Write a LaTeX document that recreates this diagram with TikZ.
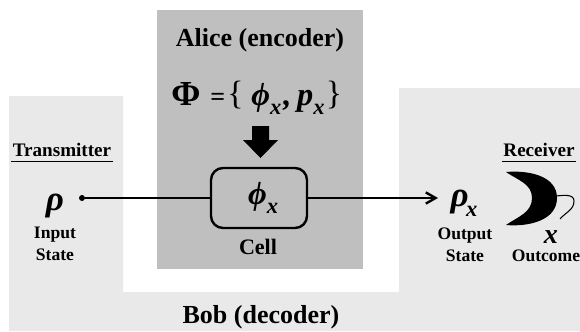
\documentclass[tikz,border=0pt]{standalone}
\usepackage{fontspec}
\setmainfont{Liberation Serif}
\usetikzlibrary{arrows.meta}
\definecolor{bobgray}{HTML}{E9E9E9}
\definecolor{alicegray}{HTML}{BFBFBF}
\newcommand{\subx}{\raisebox{-0.28em}{\fontsize{16}{16}\selectfont x}}
\newcommand{\brc}[1]{{\mdseries\upshape\fontsize{24}{24}\selectfont\raisebox{0.02em}{#1}}}
\tikzset{
title/.style={font=\bfseries\fontsize{18.5}{20}\selectfont,inner sep=0pt},
party/.style={font=\bfseries\fontsize{13.6}{15}\selectfont,inner xsep=1pt,inner ysep=3pt},
small/.style={font=\bfseries\fontsize{12.5}{15.6}\selectfont,align=center,inner sep=0pt},
symb/.style={font=\bfseries\itshape\fontsize{23}{24}\selectfont,inner sep=0pt},
rhosymb/.style={font=\bfseries\itshape\fontsize{25}{26}\selectfont,inner sep=0pt},
wire/.style={line width=1.7pt},
}
\begin{document}
\begin{tikzpicture}
\useasboundingbox (0,0) rectangle (14.5,8.275);

\fill[bobgray] (0.225,0) -- (0.225,5.875) -- (3.075,5.875) -- (3.075,0.975)
-- (9.975,0.975) -- (9.975,6.075) -- (14.5,6.075) -- (14.5,0) -- cycle;
\fill[alicegray] (3.925,1.55) rectangle (9.075,8.025);

\node[title] (alice) at (6.5,7.26) {Alice (encoder)};
\node[title,anchor=base west] (ens) at (4.28,5.65) {{\fontsize{25}{26}\selectfont Φ}\hspace{7pt}=\hspace{1.5pt}\brc{\{}\hspace{5.5pt}{\itshape\fontsize{23}{24}\selectfont ϕ\subx\hspace{1.5pt},\hspace{4pt}p\subx}\hspace{1pt}\brc{\}}};
\node[title] (bob) at (6.525,0.35) {Bob (decoder)};

\fill (6.3,5.125) -- (6.725,5.125) -- (6.725,4.775) -- (6.95,4.775)
-- (6.5125,4.325) -- (6.075,4.775) -- (6.3,4.775) -- cycle;

\node[party] (trans) at (1.55,4.525) {Transmitter};
\node[party] (recv) at (13.475,4.525) {Receiver};
\draw[line width=1pt] (trans.south west) -- (trans.south east);
\draw[line width=1pt] (recv.south west) -- (recv.south east);

\node[rhosymb] (rhoin) at (1.375,3.125) {ρ};
\node[small] (input) at (1.375,2.175) {Input\\State};
\node[circle,fill=black,inner sep=0pt,minimum size=0.15cm] (dot) at (2.05,3.325) {};

\node[draw,wire,rounded corners=0.3cm,minimum width=2.4cm,minimum height=1.5cm,symb] (cell) at (6.475,3.325) {\hspace{6pt}ϕ\subx};
\node[font=\bfseries\fontsize{15.7}{17}\selectfont,inner sep=0pt] (celltxt) at (6.45,2.1) {Cell};

\coordinate (tip) at (10.95,3.325);
\node[rhosymb] (rhoout) at (11.6,3.2) {ρ\hspace{-2pt}\subx};
\node[small] (output) at (11.625,2.15) {Output\\State};

\draw[wire] (dot) -- (cell);
\draw[wire,-{Straight Barb[length=7pt,width=8pt]}] (cell) -- (tip);

\coordinate (A) at (12.65,3.975);
\coordinate (B) at (13.925,3.325);
\coordinate (C) at (12.65,2.65);
\coordinate (D) at (13.3,3.325);
\coordinate (E) at (13.9,3.375);
\coordinate (F) at (14.35,3.25);
\coordinate (G) at (14,2.8);

\fill (A)
to[out=5,in=90] (B)
to[out=-90,in=-5] (C)
to[out=35,in=-90] (D)
to[out=90,in=-35] (A);
\draw[line width=0.75pt] (E) to[out=5,in=90] (F) to[out=-90,in=50] (G);

\node[symb,font=\bfseries\itshape\fontsize{20}{22}\selectfont] (outx) at (13.775,2.36) {x};
\node[small] (outcome) at (13.65,1.875) {Outcome};
\end{tikzpicture}
\end{document}
